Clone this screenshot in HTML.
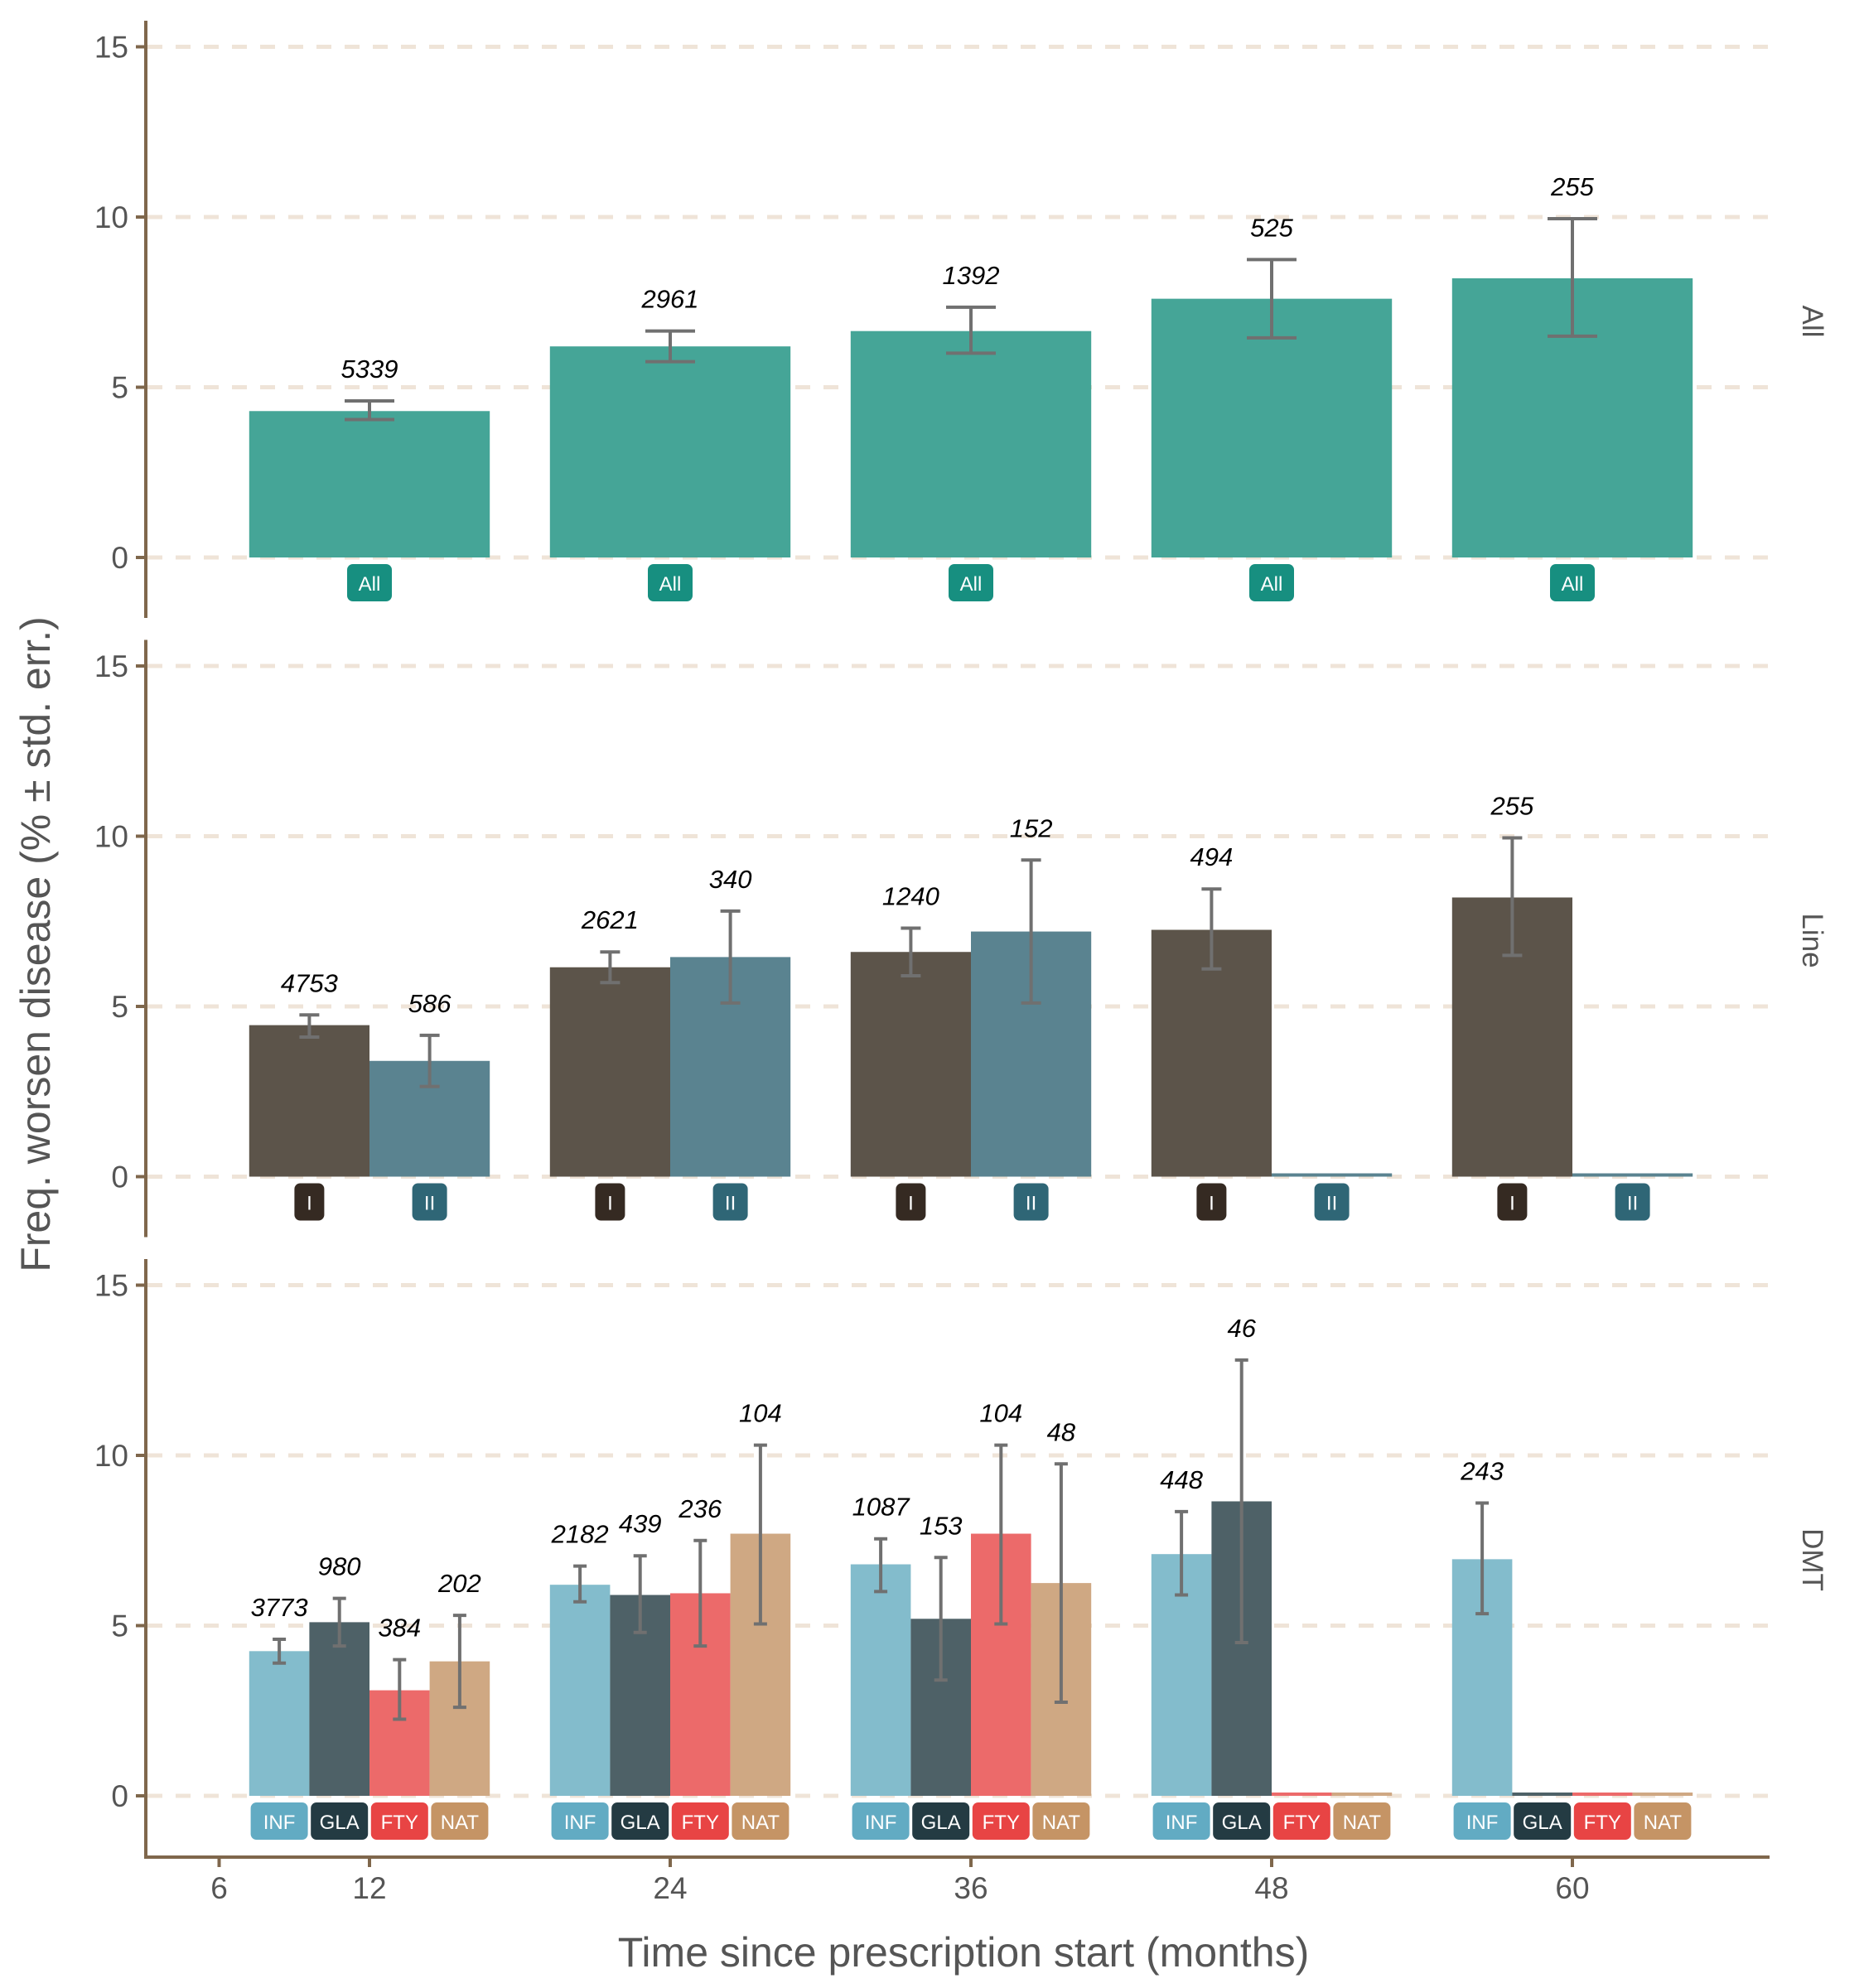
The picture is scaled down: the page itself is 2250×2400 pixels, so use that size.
<!DOCTYPE html>
<html><head><meta charset="utf-8"><style>
body{margin:0;background:#fff}
svg{display:block;font-family:"Liberation Sans",sans-serif}
</style></head><body>
<svg id="chart" width="2250" height="2400" viewBox="0 0 2250 2400"></svg>
<script>
const months=[12,24,36,48,60];
const xTicks=[6,12,24,36,48,60];
const yTicks=[0,5,10,15];
// Panel All
const allVal=[4.3,6.2,6.65,7.6,8.2];
const allLo=[4.05,5.75,6.0,6.45,6.5];
const allHi=[4.6,6.65,7.35,8.75,9.95];
const allN=["5339","2961","1392","525","255"];
// Panel Line
const lineIVal=[4.45,6.15,6.6,7.25,8.2];
const lineILo=[4.1,5.7,5.9,6.1,6.5];
const lineIHi=[4.75,6.6,7.3,8.45,9.95];
const lineIN=["4753","2621","1240","494","255"];
const lineIIVal=[3.4,6.45,7.2,0,0];
const lineIILo=[2.65,5.1,5.1,null,null];
const lineIIHi=[4.15,7.8,9.3,null,null];
const lineIIN=["586","340","152","",""];
// Panel DMT
const infVal=[4.25,6.2,6.8,7.1,6.95];
const infLo=[3.9,5.7,6.0,5.9,5.35];
const infHi=[4.6,6.75,7.55,8.35,8.6];
const infN=["3773","2182","1087","448","243"];
const glaVal=[5.1,5.9,5.2,8.65,0];
const glaLo=[4.4,4.8,3.4,4.5,null];
const glaHi=[5.8,7.05,7.0,12.8,null];
const glaN=["980","439","153","46",""];
const ftyVal=[3.1,5.95,7.7,0,0];
const ftyLo=[2.25,4.4,5.05,null,null];
const ftyHi=[4.0,7.5,10.3,null,null];
const ftyN=["384","236","104","",""];
const natVal=[3.95,7.7,6.25,0,0];
const natLo=[2.6,5.05,2.75,null,null];
const natHi=[5.3,10.3,9.75,null,null];
const natN=["202","104","48","",""];

const NS="http://www.w3.org/2000/svg";
const svg=document.getElementById('chart');
function mk(tag,attrs,parent){const e=document.createElementNS(NS,tag);for(const k in attrs)e.setAttribute(k,attrs[k]);(parent||svg).appendChild(e);return e;}
const x=m=>446+(m-12)*30.25;
const groupW=0.8*12*30.25;
const panelZero=[673,1420.5,2168];
const yPer=205.5/5;
const panels=[
 {name:"All",cap:60,badgeW:[54],series:[{v:allVal,lo:allLo,hi:allHi,n:allN,lab:"All",bar:"#45a597",badge:"#178f80"}]},
 {name:"Line",cap:24,badgeW:[36,42],series:[
   {v:lineIVal,lo:lineILo,hi:lineIHi,n:lineIN,lab:"I",bar:"#5c544a",badge:"#352a22"},
   {v:lineIIVal,lo:lineIILo,hi:lineIIHi,n:lineIIN,lab:"II",bar:"#5a8390",badge:"#2f6676"}]},
 {name:"DMT",cap:16,badgeW:[69,69,69,69],series:[
   {v:infVal,lo:infLo,hi:infHi,n:infN,lab:"INF",bar:"#83bccc",badge:"#62abc3"},
   {v:glaVal,lo:glaLo,hi:glaHi,n:glaN,lab:"GLA",bar:"#4e6167",badge:"#243b43"},
   {v:ftyVal,lo:ftyLo,hi:ftyHi,n:ftyN,lab:"FTY",bar:"#ec6a6a",badge:"#e84444"},
   {v:natVal,lo:natLo,hi:natHi,n:natN,lab:"NAT",bar:"#cfa883",badge:"#c59465"}]}
];
panels.forEach((p,pi)=>{
  const z=panelZero[pi];
  const y=v=>z-v*yPer;
  const g=mk('g',{});
  
  
  yTicks.forEach(t=>{
    const gl=mk('line',{x1:178,x2:2138,y1:y(t),y2:y(t),stroke:'#efe4d8','stroke-width':5,'stroke-dasharray':'18 16'},g);
    
    
    const tk=mk('line',{x1:164,x2:176,y1:y(t),y2:y(t),stroke:'#7f674c','stroke-width':4},g);
    
    
    const tl=mk('text',{x:155,y:y(t)+13,'text-anchor':'end','font-size':37,fill:'#555'},g);
    tl.textContent=t;
    
    
  });
  const ax=mk('line',{x1:176,x2:176,y1:z-648,y2:z+73,stroke:'#7f674c','stroke-width':4},g);
  
  
  const k=p.series.length, bw=groupW/k;
  months.forEach((m,mi)=>{
    p.series.forEach((s,si)=>{
      const bx=x(m)-groupW/2+si*bw, cx=bx+bw/2;
      const val=s.v[mi];
      const h=Math.max(val*yPer,4);
      const r=mk('rect',{x:bx,y:z-h,width:bw,height:h,fill:s.bar},g);
      
      
      if(s.lo[mi]!=null){
        const eg=mk('g',{stroke:'#707070','stroke-width':4},g);
        
        
        mk('line',{x1:cx,x2:cx,y1:y(s.lo[mi]),y2:y(s.hi[mi])},eg);
        mk('line',{x1:cx-p.cap/2,x2:cx+p.cap/2,y1:y(s.lo[mi]),y2:y(s.lo[mi])},eg);
        mk('line',{x1:cx-p.cap/2,x2:cx+p.cap/2,y1:y(s.hi[mi]),y2:y(s.hi[mi])},eg);
      }
      if(s.n[mi]){
        const nl=mk('text',{x:cx,y:y(s.hi[mi])-28,'text-anchor':'middle','font-size':31,'font-style':'italic',fill:'#000'},g);
        nl.textContent=s.n[mi];
        
        
      }
      const w=p.badgeW[si];
      const b=mk('rect',{x:cx-w/2,y:z+8,width:w,height:45,rx:7,fill:s.badge},g);
      
      
      const bt=mk('text',{x:cx,y:z+40,'text-anchor':'middle','font-size':24,fill:'#fff'},g);
      bt.textContent=s.lab;
      
      
    });
  });
  const sl=mk('text',{x:0,y:0,'text-anchor':'middle','font-size':35,fill:'#555',transform:`translate(2176,${z-285}) rotate(90)`},g);
  sl.textContent=p.name;
  
  
});
const xa=mk('line',{x1:174,x2:2136,y1:2242,y2:2242,stroke:'#7f674c','stroke-width':4});


xTicks.forEach(t=>{
  const tk=mk('line',{x1:x(t),x2:x(t),y1:2242,y2:2254,stroke:'#7f674c','stroke-width':4});
  
  
  const tl=mk('text',{x:x(t),y:2292,'text-anchor':'middle','font-size':37,fill:'#555'});
  tl.textContent=t;
  
  
});
const xt=mk('text',{x:1163,y:2374,'text-anchor':'middle','font-size':50,fill:'#555'});
xt.textContent='Time since prescription start (months)';


const yt=mk('text',{x:0,y:0,'text-anchor':'middle','font-size':50,fill:'#555',transform:'translate(60,1140) rotate(-90)'});
yt.textContent='Freq. worsen disease (%  \u00b1  std. err.)';


</script>
</body></html>
